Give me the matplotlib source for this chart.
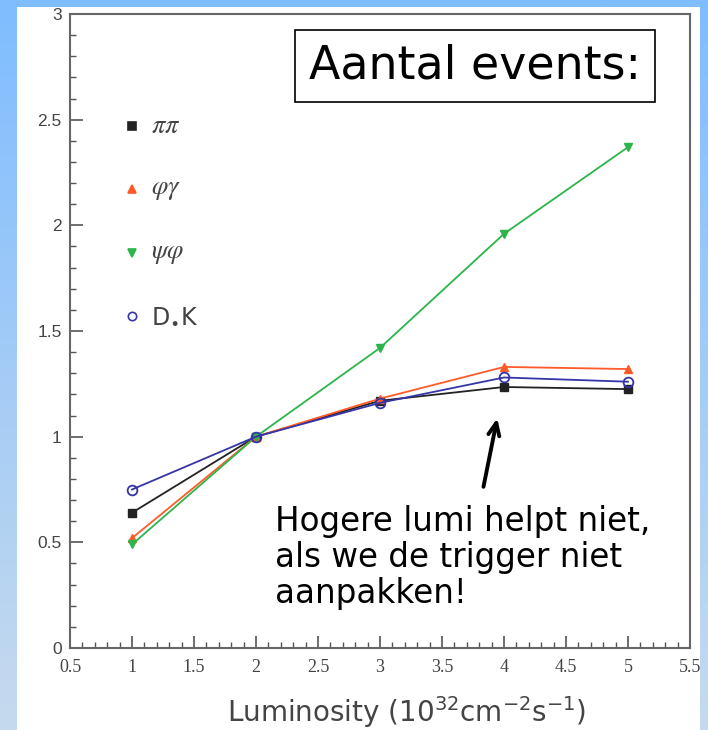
import numpy as np
import matplotlib
matplotlib.use("Agg")
import matplotlib.pyplot as plt
from matplotlib.patches import Rectangle
from matplotlib.ticker import MultipleLocator

luminosity = [1, 2, 3, 4, 5]
pipi = [0.64, 1.0, 1.17, 1.235, 1.225]
phigamma = [0.52, 1.0, 1.18, 1.33, 1.32]
psiphi = [0.49, 1.0, 1.42, 1.96, 2.37]
dsk = [0.75, 1.0, 1.16, 1.28, 1.26]

series_labels = [r"$\pi\pi$", r"$\varphi\gamma$", r"$\psi\varphi$", r"D$_{\bullet}$K"]
x_ticks = [0.5, 1, 1.5, 2, 2.5, 3, 3.5, 4, 4.5, 5, 5.5]
y_ticks = [0, 0.5, 1, 1.5, 2, 2.5, 3]

fig = plt.figure(figsize=(7.08, 7.30), dpi=100)

# background gradient
bg = fig.add_axes([0, 0, 1, 1], zorder=-10)
grad = np.linspace(0, 1, 256).reshape(-1, 1)
top = np.array([0x7F, 0xBD, 0xFF]) / 255
bot = np.array([0xC6, 0xDA, 0xEE]) / 255
img = top[None, None, :] * (1 - grad[:, :, None]) + bot[None, None, :] * grad[:, :, None]
bg.imshow(img, aspect="auto", extent=[0, 1, 0, 1], origin="upper")
bg.add_patch(Rectangle((17 / 708, 0), (700 - 17) / 708, 1 - 7 / 730,
                       facecolor="white", edgecolor="none"))
bg.set_xlim(0, 1)
bg.set_ylim(0, 1)
bg.axis("off")

ax = fig.add_axes([70 / 708, 1 - 648 / 730, 620 / 708, 634 / 730])
ax.set_facecolor("none")

ax.plot(luminosity, pipi, color="#222222", lw=1.3, marker="s", ms=6, zorder=3)
ax.plot(luminosity, phigamma, color="#FF5A2A", lw=1.3, marker="^", ms=6, zorder=4)
ax.plot(luminosity, psiphi, color="#2BB54A", lw=1.3, marker="v", ms=6, zorder=5)
ax.plot(luminosity, dsk, color="#3535A8", lw=1.3, marker="o", ms=7, mfc="none", mew=1.3, zorder=6)

ax.set_xlim(0.5, 5.5)
ax.set_ylim(0, 3)
ax.set_xticks(x_ticks)
ax.set_xticklabels([f"{v:g}" for v in x_ticks], family="Liberation Serif", fontsize=13, color="#444444")
ax.set_yticks(y_ticks)
ax.set_yticklabels([f"{v:g}" for v in y_ticks], family="Liberation Sans", fontsize=12.5, color="#444444")
ax.xaxis.set_minor_locator(MultipleLocator(0.1))
ax.yaxis.set_minor_locator(MultipleLocator(0.1))
ax.tick_params(which="both", direction="in", color="#555555", top=False, right=False)
ax.tick_params(which="major", length=9, width=1.2)
ax.tick_params(which="minor", length=4, width=1)
ax.tick_params(axis="x", pad=8)
ax.tick_params(axis="y", pad=6)
for s in ax.spines.values():
    s.set_color("#666666")
    s.set_linewidth(1.5)

ax.set_xlabel(r"Luminosity (10$^{32}$cm$^{-2}$s$^{-1}$)", fontsize=20,
              color="#444444", family="DejaVu Sans")
ax.xaxis.set_label_coords(0.543, -0.073)

# legend drawn manually
leg_y = [2.47, 2.17, 1.87, 1.57]
markers = [("s", "#222222", "#222222"), ("^", "#FF5A2A", "#FF5A2A"),
           ("v", "#2BB54A", "#2BB54A"), ("o", "#3535A8", "none")]
for i, (yy, (m, c, fc), lab) in enumerate(zip(leg_y, markers, series_labels)):
    ax.plot([1.0], [yy], marker=m, color=c, mfc=fc, ms=6, ls="none", mew=1.2)
    ax.text(1.15, yy, lab, fontsize=19 if i < 3 else 17, va="center", ha="left",
            color="#444444", family="DejaVu Sans", math_fontfamily="stix" if i < 3 else "dejavusans")

ax.text(0.653, 0.918, "Aantal events:", transform=ax.transAxes, fontsize=33,
        ha="center", va="center",
        bbox=dict(boxstyle="square,pad=0.3", fc="white", ec="black", lw=1.2))

ax.annotate("", xy=(3.95, 1.10), xytext=(3.83, 0.75),
            arrowprops=dict(arrowstyle="->,head_length=0.9,head_width=0.4", lw=2.8, color="black"))
ax.text(2.15, 0.675, "Hogere lumi helpt niet,\nals we de trigger niet\naanpakken!",
        fontsize=23.5, ha="left", va="top", linespacing=1.1)

fig.savefig("out.png", dpi=100)
